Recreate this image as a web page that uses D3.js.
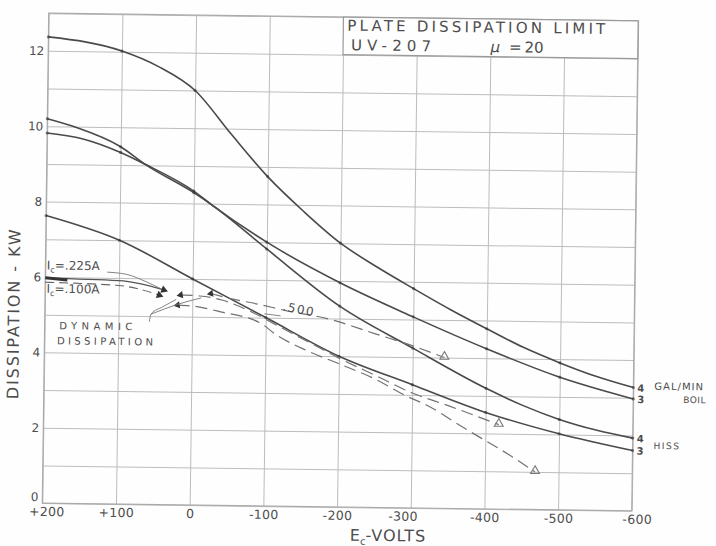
<!DOCTYPE html>
<html><head><meta charset="utf-8">
<script src="https://cdn.jsdelivr.net/npm/d3@7"></script>
<style>
body{margin:0;background:#fff}
svg{display:block}
text{font-family:"DejaVu Sans",sans-serif;fill:#4d4d4d}
</style>
</head><body>
<script>
// ---- data ----
const voltTicks = [200, 100, 0, -100, -200, -300, -400, -500, -600];
const voltTickLabels = ["+200", "+100", "0", "-100", "-200", "-300", "-400", "-500", "-600"];
const kwGrid = [0,1,2,3,4,5,6,7,8,9,10,11,12,13];
const kwTickLabels = ["0","","2","","4","","6","","8","","10","","12",""];

// solid limit curves
const gal4Volts = [200, 100, 50, 0, -50, -100, -150, -200, -250, -300, -350, -400, -450, -500, -550, -600];
const gal4Kw    = [12.37, 12.02, 11.62, 11.0, 9.85, 8.74, 7.82, 7.0, 6.38, 5.82, 5.28, 4.78, 4.3, 3.9, 3.55, 3.27];
const gal3Volts = [200, 150, 100, 67, 0, -27, -100, -200, -300, -400, -500, -600];
const gal3Kw    = [9.82, 9.67, 9.33, 9.03, 8.33, 7.94, 7.0, 5.95, 5.07, 4.25, 3.52, 2.97];
const hiss4Volts = [200, 164, 100, 67, 0, -27, -100, -200, -300, -400, -450, -500, -550, -600];
const hiss4Kw    = [10.2, 10.0, 9.48, 9.03, 8.29, 7.94, 6.82, 5.33, 4.24, 3.2, 2.76, 2.4, 2.13, 1.93];
const hiss3Volts = [200, 100, 0, -100, -200, -300, -400, -500, -600];
const hiss3Kw    = [7.63, 7.0, 6.0, 5.0, 4.0, 3.27, 2.56, 2.02, 1.6];

// static lines at grid current
const ic225Volts = [200, 100, 70, 39];
const ic225Kw    = [5.97, 5.93, 5.85, 5.7];
const ic100Volts = [200, 100, 70, 45];
const ic100Kw    = [5.86, 5.8, 5.7, 5.56];

// dynamic dissipation (dashed)
const dynEVolts = [-25, -50, -90, -130, -182, -250, -300, -343];
const dynEKw    = [5.62, 5.5, 5.35, 5.18, 5.0, 4.6, 4.3, 4.0];
const dynGVolts = [16, -10, -40, -80, -120, -160, -200, -250, -300, -350, -418];
const dynGKw    = [5.57, 5.55, 5.45, 5.15, 4.75, 4.35, 3.95, 3.5, 3.05, 2.72, 2.24];
const dynHVolts = [20, 0, -40, -92, -115, -156, -200, -250, -293, -320, -370, -432, -468];
const dynHKw    = [5.3, 5.28, 5.13, 4.86, 4.54, 4.14, 3.8, 3.4, 2.96, 2.73, 2.15, 1.45, 1.0];

const endLabels = ["4", "3", "4", "3"];

// ---- drawing ----
const W = 716, H = 546;
const svg = d3.select("body").append("svg").attr("width", W).attr("height", H);
svg.append("rect").attr("width", W).attr("height", H).attr("fill", "#fefefe");

const g = svg.append("g").attr("transform", "rotate(0.75,340,262)");

const x = d3.scaleLinear().domain([200, -600]).range([45.5, 635]);
const y = d3.scaleLinear().domain([0, 13]).range([507, 17]);
const gridColor = "#bcbcbc";

// vertical grid + x labels
const gx = g.append("g").attr("transform", `translate(0,${y(0)})`)
  .call(d3.axisBottom(x).tickValues(voltTicks)
    .tickFormat((d, i) => voltTickLabels[i])
    .tickSize(-(y(0) - y(13))).tickPadding(4));
gx.select(".domain").remove();
gx.selectAll("line").attr("stroke", gridColor).attr("stroke-width", 1);
gx.selectAll("text").attr("font-size", 12.5).attr("fill", "#707070")
  .attr("font-family", "DejaVu Sans, sans-serif").attr("letter-spacing", 0.3);
gx.selectAll(".tick").filter(d => d === 200).select("text").attr("dx", 4);
gx.selectAll(".tick").filter(d => d === -300).select("text").attr("dx", -8);
gx.selectAll(".tick").filter(d => d === -600).select("text").attr("dx", 5);

// horizontal grid + y labels
const gy = g.append("g").attr("transform", `translate(${x(200)},0)`)
  .call(d3.axisLeft(y).tickValues(kwGrid)
    .tickFormat((d, i) => kwTickLabels[i])
    .tickSize(-(x(-600) - x(200))).tickPadding(4));
gy.select(".domain").remove();
gy.selectAll("line").attr("stroke", gridColor).attr("stroke-width", 1);
gy.selectAll("text").attr("font-size", 12).attr("fill", "#777")
  .attr("font-family", "DejaVu Sans, sans-serif");
gy.selectAll(".tick").filter(d => d === 0).select("text").attr("dy", "-0.2em");

// frame
g.append("rect").attr("x", x(200)).attr("y", y(13))
  .attr("width", x(-600) - x(200)).attr("height", y(0) - y(13))
  .attr("fill", "none").attr("stroke", "#aaaaaa").attr("stroke-width", 1.2);

// title box
g.append("rect").attr("x", x(-200)).attr("y", y(13))
  .attr("width", x(-600) - x(-200)).attr("height", y(12) - y(13))
  .attr("fill", "#fefefe").attr("stroke", "#9a9a9a").attr("stroke-width", 1.2);
g.append("text").attr("x", x(-200) + 4).attr("y", y(12.64))
  .attr("font-size", 15).attr("textLength", 258).attr("lengthAdjust", "spacing")
  .text("PLATE DISSIPATION LIMIT");
g.append("text").attr("x", x(-200) + 8).attr("y", y(12.12))
  .attr("font-size", 15).attr("textLength", 80).attr("lengthAdjust", "spacing")
  .text("UV-207");
const mu = g.append("text").attr("x", x(-400)).attr("y", y(12.12)).attr("font-size", 15);
mu.append("tspan").attr("font-style", "italic").text("μ");
mu.append("tspan").attr("dx", 9).text("=");
mu.append("tspan").attr("dx", 3).text("20");

const line = d3.line().x(d => x(d[0])).y(d => y(d[1])).curve(d3.curveMonotoneX);
const zip = (a, b) => a.map((v, i) => [v, b[i]]);

// solid curves
const solid = [
  zip(gal4Volts, gal4Kw), zip(gal3Volts, gal3Kw),
  zip(hiss4Volts, hiss4Kw), zip(hiss3Volts, hiss3Kw)
];
solid.forEach(pts => {
  g.append("path").attr("d", line(pts)).attr("fill", "none")
    .attr("stroke", "#4a4a4a").attr("stroke-width", 1.6);
  g.selectAll(null).data(pts.filter(p => p[0] % 100 === 0)).enter().append("circle")
    .attr("cx", d => x(d[0])).attr("cy", d => y(d[1])).attr("r", 1.6)
    .attr("fill", "#333").attr("opacity", 0.6);
});

// static I_c lines
g.append("path").attr("d", line(zip(ic225Volts, ic225Kw))).attr("fill", "none")
  .attr("stroke", "#555").attr("stroke-width", 1.2);
g.append("path").attr("d", line(zip(ic100Volts, ic100Kw))).attr("fill", "none")
  .attr("stroke", "#666").attr("stroke-width", 1.1).attr("stroke-dasharray", "9,5");
g.append("line").attr("x1", x(200)).attr("y1", y(5.98)).attr("x2", x(170)).attr("y2", y(5.93))
  .attr("stroke", "#333").attr("stroke-width", 3);

// dynamic dashed curves
const dyn = [zip(dynEVolts, dynEKw), zip(dynGVolts, dynGKw), zip(dynHVolts, dynHKw)];
dyn.forEach(pts => {
  g.append("path").attr("d", line(pts)).attr("fill", "none")
    .attr("stroke", "#727272").attr("stroke-width", 1.2).attr("stroke-dasharray", "12,6");
  const s = pts[0], e = pts[pts.length - 1];
  g.append("path").attr("d", d3.symbol(d3.symbolTriangle, 22)())
    .attr("transform", `translate(${x(s[0])},${y(s[1])}) rotate(-100)`).attr("fill", "#333");
  g.append("path").attr("d", d3.symbol(d3.symbolTriangle, 34)())
    .attr("transform", `translate(${x(e[0])},${y(e[1]) - 1})`)
    .attr("fill", "none").attr("stroke", "#777").attr("stroke-width", 1.1);
});
// arrows at ends of static lines
[[ic225Volts, ic225Kw], [ic100Volts, ic100Kw]].forEach(([v, k]) => {
  const n = v.length - 1;
  g.append("path").attr("d", d3.symbol(d3.symbolTriangle, 26)())
    .attr("transform", `translate(${x(v[n])},${y(k[n])}) rotate(110)`).attr("fill", "#333");
});

// end labels
const ends = [[gal4Volts, gal4Kw], [gal3Volts, gal3Kw], [hiss4Volts, hiss4Kw], [hiss3Volts, hiss3Kw]];
ends.forEach(([v, k], i) => {
  g.append("text").attr("x", x(-600) + 4).attr("y", y(k[k.length - 1]) + 4)
    .attr("font-size", 10).attr("font-weight", "bold").attr("fill", "#555").text(endLabels[i]);
});
g.append("text").attr("x", x(-600) + 21).attr("y", y(3.3) + 3).attr("font-size", 10)
  .attr("letter-spacing", 1).text("GAL/MIN");
g.append("text").attr("x", x(-600) + 50).attr("y", y(2.88)).attr("font-size", 9)
  .attr("letter-spacing", 0.5).text("BOIL");
g.append("text").attr("x", x(-600) + 21).attr("y", y(1.65)).attr("font-size", 9)
  .attr("letter-spacing", 1.5).text("HISS");

// annotations
const ic1 = g.append("text").attr("x", x(198)).attr("y", y(6.2)).attr("font-size", 12);
ic1.append("tspan").text("I");
ic1.append("tspan").attr("font-size", 8).attr("dy", 3).text("c");
ic1.append("tspan").attr("dy", -3).text("=.225A");
const ic2 = g.append("text").attr("x", x(198)).attr("y", y(5.58)).attr("font-size", 12);
ic2.append("tspan").text("I");
ic2.append("tspan").attr("font-size", 8).attr("dy", 3).text("c");
ic2.append("tspan").attr("dy", -3).text("=.100A");
// leader from I_c=.225A label
g.append("path").attr("d", line([[116, 6.15], [90, 6.1], [62, 5.9], [42, 5.72]]))
  .attr("fill", "none").attr("stroke", "#777").attr("stroke-width", 0.9);

g.append("text").attr("x", x(180)).attr("y", y(4.62)).attr("font-size", 10)
  .attr("textLength", 73).attr("lengthAdjust", "spacing").text("DYNAMIC");
g.append("text").attr("x", x(183)).attr("y", y(4.22)).attr("font-size", 10)
  .attr("textLength", 96).attr("lengthAdjust", "spacing").text("DISSIPATION");
// leaders from DYNAMIC DISSIPATION label
g.append("path").attr("d", line([[58, 4.85], [56, 5.05], [40, 5.25], [22, 5.45]]))
  .attr("fill", "none").attr("stroke", "#777").attr("stroke-width", 0.9);
g.append("path").attr("d", line([[56, 5.05], [20, 5.32], [-12, 5.5]]))
  .attr("fill", "none").attr("stroke", "#777").attr("stroke-width", 0.9);

// .500 label with leader
g.append("text").attr("x", x(-122)).attr("y", y(5.2)).attr("font-size", 12)
  .attr("transform", `rotate(10,${x(-122)},${y(5.2)})`).attr("letter-spacing", 1.5).text(".500");
g.append("line").attr("x1", x(-98)).attr("y1", y(5.1)).attr("x2", x(-120)).attr("y2", y(5.05))
  .attr("stroke", "#777").attr("stroke-width", 0.9);

// axis titles
g.append("text").attr("transform", `translate(20,${y(5)}) rotate(-90)`)
  .attr("text-anchor", "middle").attr("font-size", 16)
  .attr("textLength", 170).attr("lengthAdjust", "spacing").attr("fill", "#444")
  .text("DISSIPATION - KW");
const xt = g.append("text").attr("x", x(-218)).attr("y", 540.5).attr("font-size", 16).attr("fill", "#444");
xt.append("tspan").text("E");
xt.append("tspan").attr("font-size", 10).attr("dy", 4).text("c");
xt.append("tspan").attr("dy", -4).attr("letter-spacing", 1).text("-VOLTS");
</script>
</body></html>
